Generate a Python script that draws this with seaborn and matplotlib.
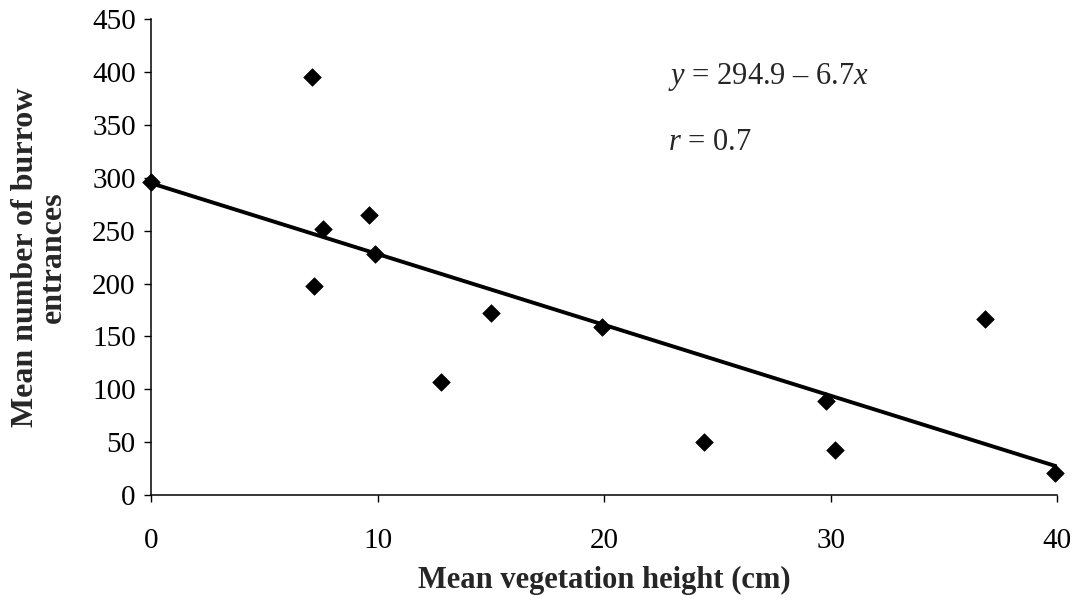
import matplotlib
matplotlib.use("Agg")
import matplotlib.pyplot as plt
import seaborn as sns
import pandas as pd

# Mean vegetation height (cm) and mean burrow entrance counts per site
veg_height = [0.0, 7.1, 7.2, 7.6, 9.6, 9.9, 12.8, 15.0, 19.9, 24.4, 29.8, 30.2, 36.8, 39.9]
burrows = [296, 395, 198, 252, 265, 228, 107, 172, 159, 50, 89, 43, 166, 21]

# Fitted regression reported on the chart
intercept = 294.9
slope = -6.7
r_value = 0.7

x_ticks = [0, 10, 20, 30, 40]
y_ticks = [0, 50, 100, 150, 200, 250, 300, 350, 400, 450]

sns.set_style("ticks")
plt.rcParams["font.family"] = ["Liberation Serif", "DejaVu Serif"]
plt.rcParams["mathtext.fontset"] = "custom"
plt.rcParams["mathtext.rm"] = "Liberation Serif"
plt.rcParams["mathtext.it"] = "Liberation Serif:italic"

df = pd.DataFrame({"height": veg_height, "burrows": burrows})
fit_x = [x_ticks[0], x_ticks[-1]]
fit = pd.DataFrame({"height": fit_x, "burrows": [intercept + slope * v for v in fit_x]})

fig = plt.figure(figsize=(10.81, 6.0), dpi=100)
ax = fig.add_axes([0.1397, 0.175, 0.8383, 0.793])

sns.lineplot(data=fit, x="height", y="burrows", ax=ax, color="black", linewidth=2.8)
sns.scatterplot(data=df, x="height", y="burrows", ax=ax, marker="D", s=80,
                color="black", edgecolor="black", linewidth=0.5, zorder=3, clip_on=False)

ax.set_xlim(x_ticks[0], x_ticks[-1])
ax.set_ylim(y_ticks[0], y_ticks[-1])
ax.set_xticks(x_ticks)
ax.set_yticks(y_ticks)

sns.despine(ax=ax)
for side in ("left", "bottom"):
    ax.spines[side].set_linewidth(1.1)
    ax.spines[side].set_color("black")

ax.tick_params(axis="both", direction="out", length=5, width=1.0, colors="black", labelsize=21)
ax.tick_params(axis="x", pad=19)
ax.tick_params(axis="y", pad=6)

ax.set_xlabel("Mean vegetation height (cm)", fontsize=22, fontweight="bold", labelpad=8)
ax.set_ylabel("Mean number of burrow\nentrances", fontsize=23, fontweight="bold",
              linespacing=0.95)
ax.yaxis.set_label_coords(-0.092, 0.5)

ax.text(22.8, 395, f"$y$ = {intercept} \u2013 {abs(slope)}$x$", fontsize=22, va="center", ha="left")
ax.text(22.8, 333, f"$r$ = {r_value}", fontsize=22, va="center", ha="left")

fig.savefig("out.png", dpi=100, facecolor="white")
